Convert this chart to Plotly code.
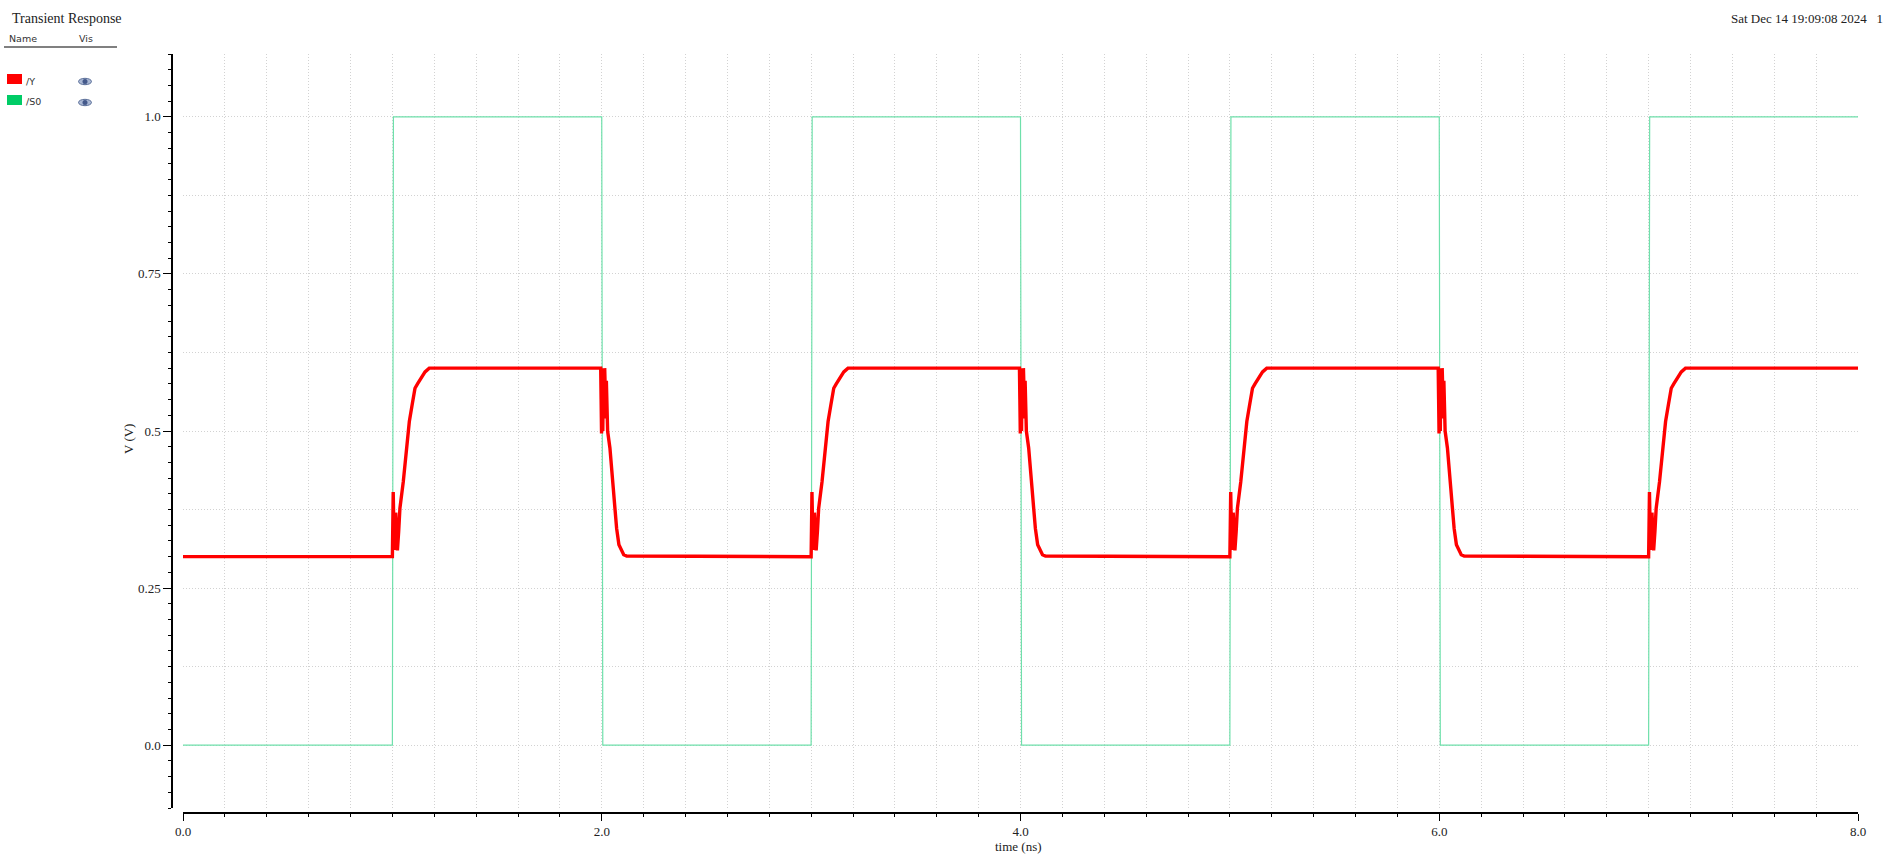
import plotly.graph_objects as go

# ---------------- data ----------------
# S0 square-wave edge times (ns) and the level it switches to
s0_edge_times = [1.0, 2.0, 3.0, 4.0, 5.0, 6.0, 7.0]
s0_edge_levels = [1.0, 0.0, 1.0, 0.0, 1.0, 0.0, 1.0]
s0_start = 0.0
t_end = 8.0

# Y output: rising edges follow S0 rising edges, falling edges follow S0 falling edges
y_low = 0.30
y_high = 0.60
y_rise_times = [1.0, 3.0, 5.0, 7.0]
y_fall_times = [2.0, 4.0, 6.0]
# rising-edge shape: time offsets (ns) and values (V)
rise_dt = [0.000, 0.002, 0.004, 0.008, 0.012, 0.016, 0.020, 0.024, 0.030, 0.036,
           0.052, 0.068, 0.081, 0.094, 0.108, 0.120, 0.132, 0.156, 0.176]
rise_v = [0.300, 0.350, 0.403, 0.330, 0.311, 0.370, 0.340, 0.310, 0.340, 0.377,
          0.419, 0.473, 0.515, 0.541, 0.568, 0.575, 0.581, 0.594, 0.600]
# falling-edge shape: time offsets (ns) and values (V)
fall_dt = [-0.005, -0.003, -0.001, 0.002, 0.005, 0.008, 0.011, 0.014, 0.018, 0.022,
           0.028, 0.039, 0.047, 0.055, 0.063, 0.071, 0.082, 0.095, 0.105, 0.119]
fall_v = [0.600, 0.550, 0.496, 0.580, 0.500, 0.600, 0.520, 0.600, 0.550, 0.580,
          0.500, 0.473, 0.446, 0.409, 0.377, 0.345, 0.319, 0.308, 0.303, 0.301]

edge_width = 0.005  # ns, S0 transition width

x_major = [0.0, 2.0, 4.0, 6.0, 8.0]
x_labels = ["0.0", "2.0", "4.0", "6.0", "8.0"]
y_major = [0.0, 0.25, 0.5, 0.75, 1.0]
y_labels = ["0.0", "0.25", "0.5", "0.75", "1.0"]
y_grid = [0.0, 0.125, 0.25, 0.375, 0.5, 0.625, 0.75, 0.875, 1.0]

# ---------------- build series ----------------
s0_t = [s0_start]
s0_v = [0.0]
prev = 0.0
for te, lv in zip(s0_edge_times, s0_edge_levels):
    s0_t += [te, te + edge_width]
    s0_v += [prev, lv]
    prev = lv
s0_t.append(t_end)
s0_v.append(prev)

events = sorted([(t, "r") for t in y_rise_times] + [(t, "f") for t in y_fall_times])
y_t = [0.0]
y_v = [y_low]
for te, kind in events:
    if kind == "r":
        y_t += [te + d for d in rise_dt]
        y_v += rise_v
    else:
        y_t += [te + d for d in fall_dt]
        y_v += fall_v
y_t.append(t_end)
y_v.append(y_high)

# ---------------- layout geometry ----------------
L, R, T, B = 172, 32, 54, 41
W, H = 1890, 854
PW, PH = W - L - R, H - T - B


def px(x):
    return (x - L) / PW


def py(y):
    return (H - B - y) / PH


fig = go.Figure()
# invisible trace so the grid subplot (x, y) is active
fig.add_trace(go.Scatter(x=[0, 8], y=[-0.1, 1.1], mode="markers", marker=dict(opacity=0),
                         hoverinfo="skip", showlegend=False, xaxis="x", yaxis="y"))
fig.add_trace(go.Scatter(x=s0_t, y=s0_v, mode="lines", name="/S0",
                         line=dict(color="#6fe0ab", width=1.2), xaxis="x", yaxis="y2"))
fig.add_trace(go.Scatter(x=y_t, y=y_v, mode="lines", name="/Y",
                         line=dict(color="#ff0000", width=3.4), xaxis="x", yaxis="y2"))

tickfont = dict(family="Liberation Serif", size=13, color="#222222")
gridc = "#d2d2d2"
gdash = "1px,2px"

fig.update_layout(
    width=W, height=H,
    margin=dict(l=L, r=R, t=T, b=B, autoexpand=False),
    paper_bgcolor="white", plot_bgcolor="white",
    showlegend=False,
    xaxis=dict(
        domain=[px(183), 1], range=[0, 8], anchor="free", position=0,
        showline=True, linecolor="black", linewidth=1.5,
        tickmode="array", tickvals=x_major, ticktext=x_labels,
        ticks="outside", ticklen=7, tickwidth=1.2, tickcolor="black",
        tickfont=tickfont, zeroline=False,
        showgrid=True, gridcolor=gridc, griddash=gdash, gridwidth=1,
        minor=dict(dtick=0.2, tick0=0, ticks="outside", ticklen=3, tickwidth=1.2,
                   tickcolor="black", showgrid=True, gridcolor=gridc, griddash=gdash,
                   gridwidth=1),
    ),
    yaxis=dict(
        domain=[py(808), 1], range=[-0.1, 1.1], anchor="x",
        showline=False, showticklabels=False, ticks="",
        tickmode="array", tickvals=y_grid, zeroline=False,
        showgrid=True, gridcolor=gridc, griddash=gdash, gridwidth=1,
    ),
    yaxis2=dict(
        domain=[py(808), 1], range=[-0.1, 1.1], overlaying="y", anchor="free", position=0,
        showline=True, linecolor="black", linewidth=1.5,
        tickmode="array", tickvals=y_major, ticktext=y_labels,
        ticks="outside", ticklen=8, tickwidth=1.2, tickcolor="black",
        tickfont=tickfont, zeroline=False, showgrid=False,
        minor=dict(dtick=0.025, tick0=0, ticks="outside", ticklen=3, tickwidth=1.2,
                   tickcolor="black", showgrid=False),
    ),
)

ann = []
serif = "Liberation Serif"
ann.append(dict(x=px(10), y=py(18), text="Transient Response", xanchor="left", yanchor="middle",
                font=dict(family=serif, size=14, color="#222222")))
ann.append(dict(x=px(1885), y=py(18), text="Sat Dec 14 19:09:08 2024&nbsp;&nbsp;&nbsp;1",
                xanchor="right", yanchor="middle",
                font=dict(family=serif, size=13, color="#222222")))
ann.append(dict(x=px(1018), y=py(846), text="time (ns)", xanchor="center", yanchor="middle",
                font=dict(family=serif, size=13, color="#222222")))
ann.append(dict(x=px(128), y=py(439), text="V (V)", textangle=-90, xanchor="center",
                yanchor="middle", font=dict(family=serif, size=13, color="#222222")))
sans = dict(family="DejaVu Sans", size=9.5, color="#333333")
ann.append(dict(x=px(7), y=py(39), text="Name", xanchor="left", yanchor="middle", font=sans))
ann.append(dict(x=px(77), y=py(39), text="Vis", xanchor="left", yanchor="middle", font=sans))
ann.append(dict(x=px(24), y=py(81), text="/Y", xanchor="left", yanchor="middle", font=sans))
ann.append(dict(x=px(24), y=py(102), text="/S0", xanchor="left", yanchor="middle", font=sans))
for a in ann:
    a.update(xref="paper", yref="paper", showarrow=False)
fig.update_layout(annotations=ann)

shapes = []
# header underline
shapes.append(dict(type="line", x0=px(4), x1=px(117), y0=py(47), y1=py(47),
                   line=dict(color="#808080", width=2)))
# legend swatches
shapes.append(dict(type="rect", x0=px(7), x1=px(22), y0=py(74), y1=py(84),
                   fillcolor="#ff0000", line=dict(width=0)))
shapes.append(dict(type="rect", x0=px(7), x1=px(22), y0=py(95), y1=py(105),
                   fillcolor="#00cc66", line=dict(width=0)))
# eye icons
for cy in (81.5, 102.5):
    shapes.append(dict(type="circle", x0=px(78.5), x1=px(91.5), y0=py(cy - 3.2), y1=py(cy + 3.2),
                       fillcolor="#aab8d4", line=dict(color="#5b6f99", width=1)))
    shapes.append(dict(type="circle", x0=px(82.5), x1=px(87.5), y0=py(cy - 2.5), y1=py(cy + 2.5),
                       fillcolor="#44598a", line=dict(width=0)))
for s in shapes:
    s.update(xref="paper", yref="paper", layer="above")
fig.update_layout(shapes=shapes)

fig.write_html("out.html", config={"displayModeBar": False},
               post_script="document.body.style.margin='0';document.body.style.overflow='hidden';")
